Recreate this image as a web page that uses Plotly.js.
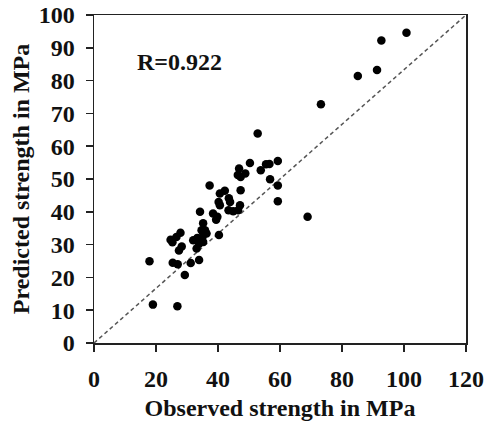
<!DOCTYPE html>
<html>
<head>
<meta charset="utf-8">
<script src="https://cdn.plot.ly/plotly-3.0.1.min.js"></script>
<style>
  html, body { margin: 0; padding: 0; background: #ffffff; }
  #chart { width: 494px; height: 427px; }
</style>
</head>
<body>
<div id="chart"></div>
<script>
// Valores (MPa)
const observed = [
  17.9, 19.0, 26.9, 29.3, 25.4, 27.0, 31.2, 33.9, 24.7, 25.3,
  26.6, 27.9, 28.3, 27.4, 32.0, 33.3, 33.9, 33.1, 34.2, 35.2,
  34.7, 35.8, 36.3, 35.0, 35.2, 37.3, 38.4, 39.4, 39.8, 40.3,
  40.2, 40.6, 40.6, 42.2, 43.5, 43.9, 43.4, 44.9, 46.5, 47.1,
  47.3, 46.8, 46.4, 47.3, 48.8, 50.3, 52.8, 53.8, 55.5, 56.6,
  56.8, 59.3, 59.3, 59.3, 68.9, 73.2, 85.1, 91.3, 92.7, 100.8
];
const predicted = [
  24.9, 11.7, 11.2, 20.7, 24.5, 24.0, 24.4, 25.3, 31.5, 30.7,
  32.3, 33.6, 29.4, 28.2, 31.3, 32.0, 30.3, 28.8, 40.0, 36.5,
  34.4, 34.4, 33.4, 32.3, 30.8, 48.0, 39.5, 37.6, 38.5, 32.9,
  43.0, 42.0, 45.6, 46.4, 44.1, 43.0, 40.5, 40.2, 40.5, 42.0,
  46.6, 53.2, 51.2, 50.6, 51.7, 54.9, 63.9, 52.7, 54.5, 54.6,
  49.9, 55.5, 48.0, 43.2, 38.5, 72.8, 81.4, 83.2, 92.2, 94.6
];
// Ticks de los ejes
const xTicks = [0, 20, 40, 60, 80, 100, 120];
const yTicks = [0, 10, 20, 30, 40, 50, 60, 70, 80, 90, 100];
// Línea de referencia (de esquina a esquina)
const refX = [0, 120];
const refY = [0, 100];
const rLabel = 'R=0.922';

const serif = '"Liberation Serif", "Times New Roman", serif';
const ink = '#111111';

const puntos = {
  type: 'scatter',
  mode: 'markers',
  x: observed,
  y: predicted,
  marker: { color: '#000000', size: 8.5 },
  hoverinfo: 'x+y',
  showlegend: false
};

const referencia = {
  type: 'scatter',
  mode: 'lines',
  x: refX,
  y: refY,
  line: { color: '#555555', width: 1.5, dash: '4px,3px' },
  hoverinfo: 'skip',
  showlegend: false
};

const axisBase = {
  showgrid: false,
  zeroline: false,
  showline: true,
  mirror: true,
  linecolor: '#222222',
  linewidth: 1.5,
  ticks: 'outside',
  ticklen: 7,
  tickwidth: 1.5,
  tickcolor: '#222222',
  tickmode: 'array',
  tickfont: { family: serif, size: 24, color: ink },
  fixedrange: true
};

const bold = v => '<b>' + v + '</b>';

const layout = {
  width: 494,
  height: 427,
  paper_bgcolor: '#ffffff',
  plot_bgcolor: '#ffffff',
  margin: { t: 15, b: 84, l: 94, r: 28 },
  font: { family: serif, color: ink },
  xaxis: Object.assign({}, axisBase, {
    range: [0, 120],
    tickvals: xTicks,
    ticktext: xTicks.map(bold),
    ticklabelstandoff: 7,
    title: { text: bold('Observed strength in MPa'), font: { family: serif, size: 24, color: ink }, standoff: 8 }
  }),
  yaxis: Object.assign({}, axisBase, {
    range: [0, 100],
    tickvals: yTicks,
    ticktext: yTicks.map(bold),
    ticklabelstandoff: 6,
    title: { text: bold('Predicted strength in MPa'), font: { family: serif, size: 24, color: ink }, standoff: 2 }
  }),
  annotations: [{
    x: 13.2, y: 85.7, xref: 'x', yref: 'y',
    xanchor: 'left', yanchor: 'middle',
    text: bold(rLabel),
    showarrow: false,
    font: { family: serif, size: 24, color: ink }
  }]
};

Plotly.newPlot('chart', [referencia, puntos], layout, { displayModeBar: false, staticPlot: true });
</script>
</body>
</html>
